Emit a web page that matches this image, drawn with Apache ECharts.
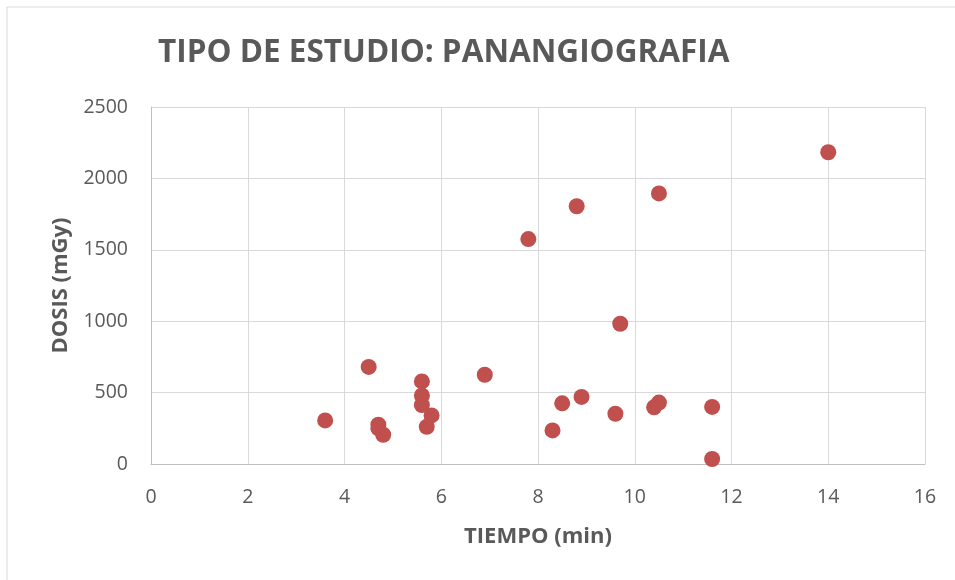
<!DOCTYPE html>
<html>
<head>
<meta charset="utf-8">
<script src="https://cdn.jsdelivr.net/npm/echarts@6/dist/echarts.min.js"></script>
<style>html,body{margin:0;padding:0;background:#fff}#c{width:955px;height:580px}</style>
</head>
<body>
<div id="c"></div>
<script>
var tiempo = [3.6, 4.5, 4.7, 4.7, 4.8, 5.6, 5.6, 5.6, 5.8, 5.7, 6.9, 7.8, 8.3, 8.5, 8.8, 8.9, 9.6, 9.7, 10.4, 10.5, 10.5, 11.6, 11.6, 14.0];
var dosis  = [305, 680, 275, 250, 205, 578, 480, 413, 340, 260, 625, 1575, 235, 425, 1805, 470, 352, 982, 397, 430, 1895, 400, 35, 2183];
var xTicks = [0, 2, 4, 6, 8, 10, 12, 14, 16];
var yTicks = [0, 500, 1000, 1500, 2000, 2500];
var titleText = 'TIPO DE ESTUDIO: PANANGIOGRAFIA';
var xName = 'TIEMPO (min)';
var yName = 'DOSIS (mGy)';

var points = tiempo.map(function (t, i) { return [t, dosis[i]]; });
var font = 'Open Sans';
var chart = echarts.init(document.getElementById('c'), null, {renderer: 'canvas'});
chart.setOption({
  animation: false,
  backgroundColor: '#fff',
  graphic: [{
    type: 'rect', shape: {x: 7, y: 7, width: 1000, height: 1000},
    style: {fill: 'none', stroke: '#d9d9d9', lineWidth: 1}, silent: true, z: -1
  }],
  title: {
    text: titleText, left: 153, top: 32,
    textStyle: {fontFamily: font, fontWeight: 'bold', fontSize: 31.5, color: '#595959'}
  },
  grid: {left: 151, right: 30, top: 107, bottom: 116},
  xAxis: {
    type: 'value', min: xTicks[0], max: xTicks[xTicks.length - 1], interval: 2,
    name: xName, nameLocation: 'middle', nameGap: 62,
    nameTextStyle: {fontFamily: font, fontWeight: 'bold', fontSize: 22, color: '#595959'},
    axisLine: {show: true, lineStyle: {color: '#bfbfbf', width: 1}},
    axisTick: {show: false},
    axisLabel: {fontFamily: font, fontSize: 19.5, color: '#595959', margin: 23},
    splitLine: {show: true, lineStyle: {color: '#d9d9d9', width: 1}}
  },
  yAxis: {
    type: 'value', min: yTicks[0], max: yTicks[yTicks.length - 1], interval: 500,
    name: yName, nameLocation: 'middle', nameGap: 79, nameRotate: 90,
    nameTextStyle: {fontFamily: font, fontWeight: 'bold', fontSize: 22, color: '#595959'},
    axisLine: {show: true, lineStyle: {color: '#bfbfbf', width: 1}},
    axisTick: {show: false},
    axisLabel: {fontFamily: font, fontSize: 19.5, color: '#595959', margin: 23,
      formatter: function (v) { return String(v); }},
    splitLine: {show: true, lineStyle: {color: '#d9d9d9', width: 1}}
  },
  series: [{
    type: 'scatter', data: points, symbol: 'circle', symbolSize: 16,
    itemStyle: {color: '#c0504d', opacity: 1}
  }]
});
</script>
</body>
</html>
